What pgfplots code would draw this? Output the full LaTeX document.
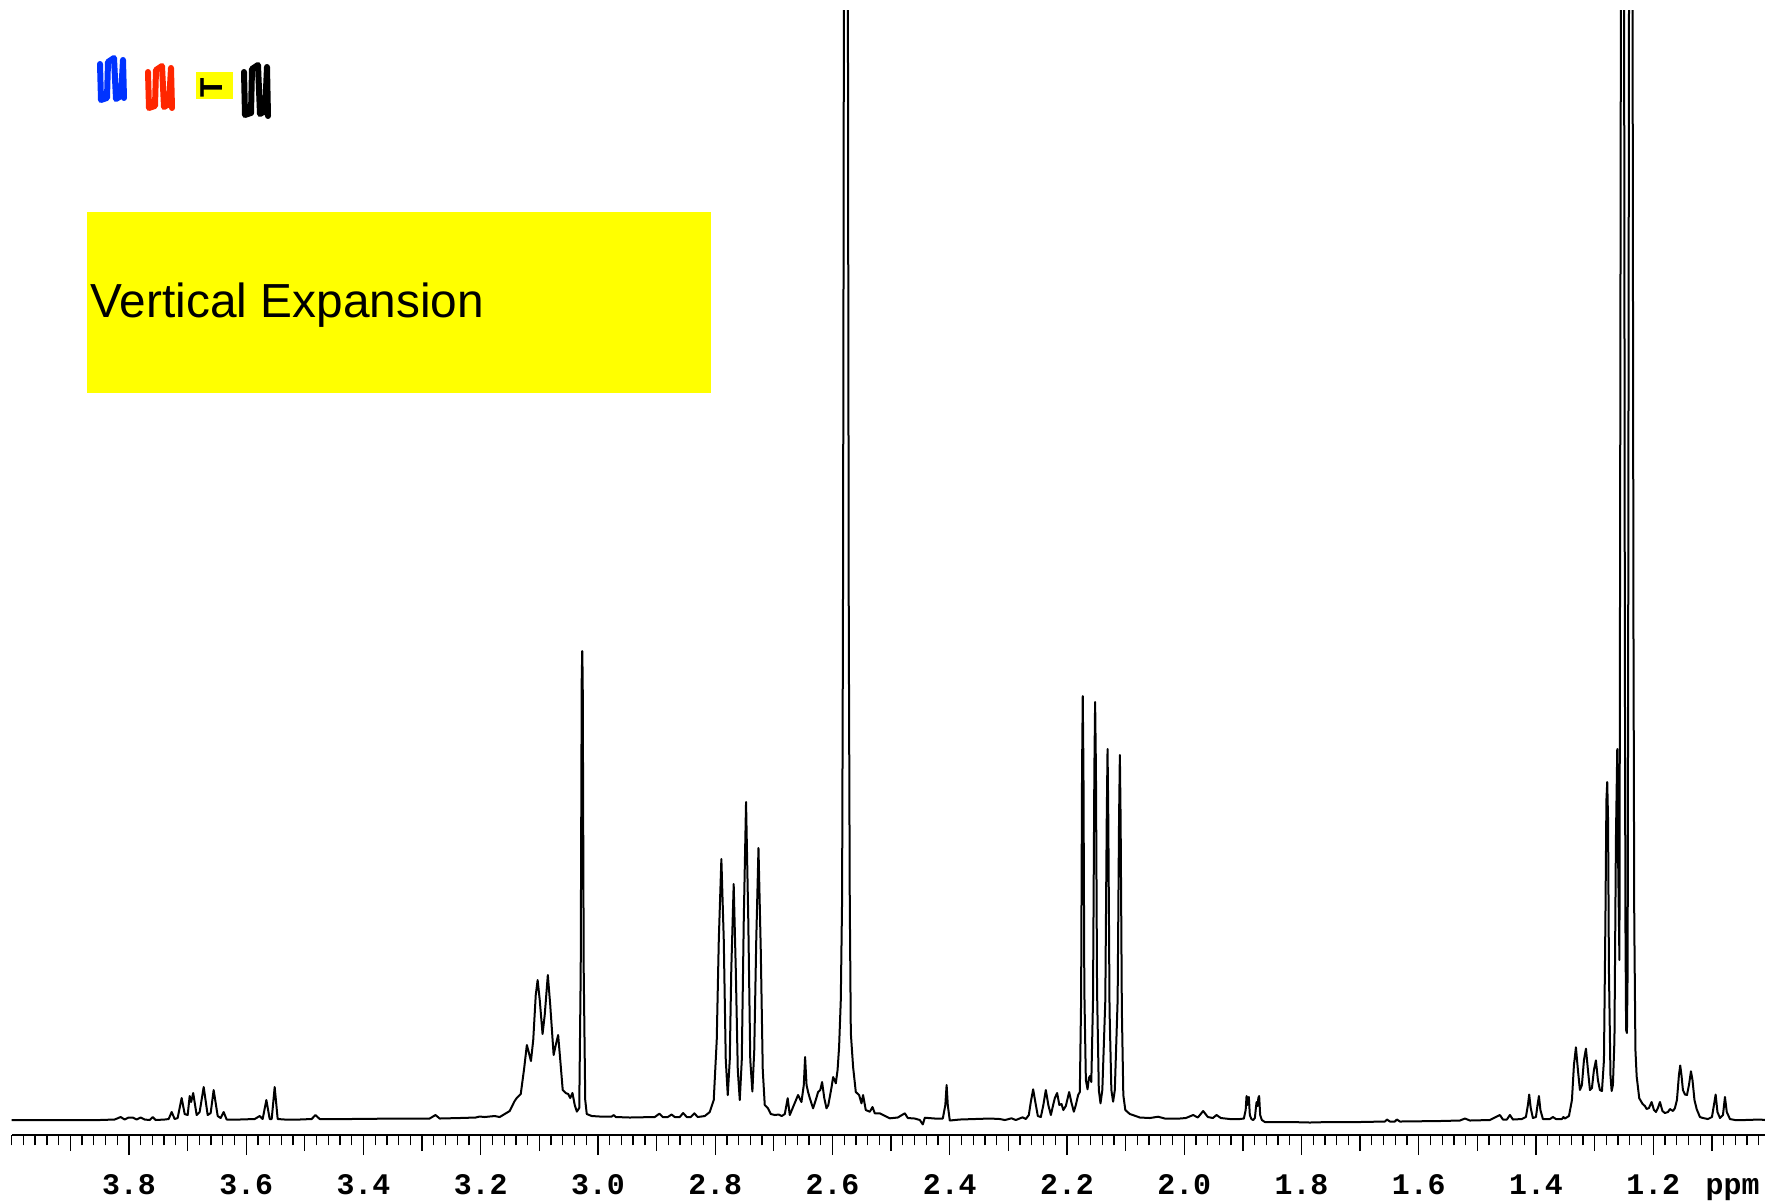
\documentclass[border=0pt]{standalone}
\usepackage{fontspec}
\setmainfont{Liberation Sans}
\setmonofont{Liberation Mono}
\usepackage{pgfplots}
\pgfplotsset{compat=1.18}
\definecolor{scrblue}{RGB}{0,51,255}
\definecolor{scrred}{RGB}{255,38,0}
\definecolor{boxyellow}{RGB}{255,255,0}
\begin{document}
\begin{tikzpicture}
\useasboundingbox (0,0) rectangle (17.65,12);
\begin{axis}[
  at={(0.117cm,0.65cm)}, anchor=south west,
  scale only axis, width=17.533cm, height=11.24cm,
  xmin=1.00938, xmax=4.0, ymin=-15, ymax=1109,
  x dir=reverse,
  axis x line*=bottom, hide y axis,
  axis line style={line width=0.22mm, black},
  tick align=outside,
  major tick length=2mm, minor tick length=1.03mm,
  every tick/.append style={line width=0.13mm, black},
  xtick={1.2,1.4,1.6,1.8,2.0,2.2,2.4,2.6,2.8,3.0,3.2,3.4,3.6,3.8},
  xticklabels={1.2,1.4,1.6,1.8,2.0,2.2,2.4,2.6,2.8,3.0,3.2,3.4,3.6,3.8},
  minor xtick={1.02,1.04,...,3.99},
  extra x ticks={1.1,1.3,1.5,1.7,1.9,2.1,2.3,2.5,2.7,2.9,3.1,3.3,3.5,3.7,3.9},
  extra x tick labels={},
  extra x tick style={major tick length=1.6mm},
  xticklabel style={anchor=base, yshift=-3.9mm, inner sep=0pt, font=\ttfamily\bfseries\fontsize{8.5}{10}\selectfont},
  clip=true,
]
\addplot[black, line width=0.2mm, line join=round] coordinates {
(4.0000,0) (3.8500,0) (3.8244,0.5) (3.8141,3) (3.8073,0.5) (3.8005,2.5) (3.7937,2.5) (3.7868,0.5) (3.7800,2.5) (3.7732,0.5)
(3.7647,0) (3.7595,3) (3.7544,0) (3.7391,0.5) (3.7322,1) (3.7271,8) (3.7220,1) (3.7169,2) (3.7101,22) (3.7049,6)
(3.6998,5) (3.6964,24) (3.6939,18) (3.6904,27) (3.6845,5) (3.6794,8) (3.6725,33) (3.6657,5) (3.6606,7) (3.6555,30)
(3.6486,4) (3.6435,2) (3.6384,8) (3.6333,0.5) (3.6111,0.5) (3.5855,1) (3.5770,4) (3.5719,1) (3.5656,20) (3.5599,1)
(3.5565,1) (3.5514,33) (3.5463,1) (3.5343,0.5) (3.5088,0.5) (3.4883,1) (3.4820,5) (3.4746,1) (3.4235,1) (3.3382,1.5)
(3.2870,1.5) (3.2772,5) (3.2699,1.5) (3.2358,2) (3.2085,2.5) (3.2018,3.5) (3.1932,3) (3.1761,4)
(3.1676,3) (3.1505,9) (3.1426,18.5) (3.1386,22) (3.1317,26) (3.1258,52) (3.1213,75) (3.1181,68) (3.1143,59) (3.1104,80)
(3.1061,125) (3.1029,140) (3.0993,120) (3.0945,86) (3.0908,105) (3.0855,145) (3.0814,115) (3.0756,65) (3.0720,75) (3.0679,85)
(3.0643,60) (3.0601,30) (3.0550,27) (3.0507,26) (3.0473,22) (3.0435,27) (3.0396,15) (3.0360,8.4) (3.0319,12) (3.0294,150)
(3.0277,440) (3.0268,469) (3.0260,440) (3.0243,150) (3.0217,20) (3.0191,6) (3.0106,4) (2.9970,3.5) (2.9765,3.5) (2.9731,5)
(2.9697,3) (2.9458,2.5) (2.9031,3) (2.8951,6.4) (2.8895,3) (2.8809,3) (2.8745,5.5) (2.8690,3) (2.8605,3) (2.8547,7)
(2.8485,3) (2.8417,3) (2.8356,6.7) (2.8298,3) (2.8178,4) (2.8093,8) (2.8025,20) (2.7974,80) (2.7939,180) (2.7895,261)
(2.7854,180) (2.7820,60) (2.7786,25) (2.7752,60) (2.7726,150) (2.7685,236) (2.7649,150) (2.7615,50) (2.7581,20) (2.7547,60)
(2.7513,200) (2.7474,318) (2.7436,200) (2.7402,60) (2.7366,28.5) (2.7334,70) (2.7300,180) (2.7262,272) (2.7223,170) (2.7189,50)
(2.7155,15) (2.7100,11.7) (2.7052,6) (2.6984,5) (2.6918,5.5) (2.6865,4) (2.6813,6) (2.6764,21.8) (2.6728,5)
(2.6587,25) (2.6529,18) (2.6489,35) (2.6467,63) (2.6442,35) (2.6416,28) (2.6387,22) (2.6331,11.7) (2.6285,20) (2.6245,28)
(2.6208,30) (2.6177,38) (2.6140,22) (2.6102,11.7) (2.6071,15) (2.6046,23) (2.6015,33) (2.5989,43) (2.5964,40) (2.5943,36.7)
(2.5913,50) (2.5887,73) (2.5858,120) (2.5836,220) (2.5821,500) (2.5810,900) (2.5802,1300) (2.5771,3000) (2.5740,1300) (2.5732,900)
(2.5722,500) (2.5705,220) (2.5687,87) (2.5648,53) (2.5602,28) (2.5546,25) (2.5505,16.7) (2.5478,25) (2.5432,10) (2.5363,8.3)
(2.5317,13) (2.5278,6.7) (2.5193,6.7) (2.5022,1.7) (2.4886,2.5) (2.4766,6.7) (2.4715,2) (2.4596,1.5) (2.4510,0) (2.4459,-4.4)
(2.4425,2.3) (2.4254,1.5) (2.4118,1.5) (2.4075,15) (2.4053,35) (2.4033,15) (2.3999,-0.5) (2.3828,0.5) (2.3572,1) (2.3316,1.5)
(2.3146,1) (2.3060,0) (2.2946,1.7) (2.2873,0) (2.2758,2.7) (2.2702,1) (2.2651,5) (2.2617,18) (2.2577,30.7) (2.2540,18)
(2.2497,4) (2.2446,3) (2.2403,15) (2.2361,30) (2.2318,15) (2.2275,5) (2.2236,15) (2.2207,22) (2.2168,27) (2.2130,15)
(2.2093,16) (2.2062,10) (2.2020,14) (2.1963,28) (2.1926,18) (2.1883,8.3) (2.1849,15) (2.1810,25) (2.1781,28) (2.1759,120)
(2.1743,350) (2.1731,424) (2.1719,350) (2.1704,130) (2.1678,40) (2.1649,30.7) (2.1627,42) (2.1607,44) (2.1585,38) (2.1556,120)
(2.1533,350) (2.1520,418) (2.1506,350) (2.1487,130) (2.1457,30) (2.1428,16.7) (2.1397,30) (2.1346,120) (2.1322,300) (2.1308,371)
(2.1295,300) (2.1274,110) (2.1243,30) (2.1213,18.3) (2.1184,30) (2.1136,120) (2.1112,300) (2.1098,365) (2.1085,300) (2.1064,110)
(2.1039,25) (2.1005,10) (2.0928,6) (2.0877,5) (2.0757,2.5) (2.0587,2) (2.0445,3.3) (2.0331,1.5) (2.0075,1.5) (1.9972,2)
(1.9848,5) (1.9768,2.5) (1.9677,9) (1.9597,3) (1.9512,2) (1.9449,5) (1.9375,2) (1.9222,1) (1.9051,1) (1.8983,1.5)
(1.8952,10) (1.8937,24) (1.8923,15) (1.8910,22) (1.8898,23) (1.8881,5) (1.8855,1) (1.8824,0) (1.8795,2) (1.8778,12)
(1.8766,18) (1.8749,14) (1.8736,22) (1.8722,24) (1.8705,5) (1.8676,0) (1.8625,-2) (1.8198,-2) (1.7857,-2.5) (1.7516,-2)
(1.7004,-2) (1.6577,-1.5) (1.6543,0.5) (1.6492,-1.5) (1.6407,-1.5) (1.6373,0.5) (1.6322,-1.5) (1.5639,-1) (1.5298,-0.5) (1.5213,1.5)
(1.5127,-0.5) (1.4786,0) (1.4616,5) (1.4564,0.5) (1.4496,0.5) (1.4445,5) (1.4394,0.5) (1.4240,1) (1.4172,3) (1.4138,15)
(1.4116,25.5) (1.4090,12) (1.4053,2) (1.4001,3) (1.3974,15) (1.3950,24) (1.3925,10) (1.3882,1) (1.3763,1) (1.3711,3)
(1.3660,1) (1.3558,1) (1.3532,3) (1.3507,1.5) (1.3438,4) (1.3387,20) (1.3353,55) (1.3319,72.7) (1.3285,50) (1.3251,30)
(1.3217,35) (1.3182,60) (1.3148,71.3) (1.3114,50) (1.3080,30) (1.3046,32) (1.3012,50) (1.2978,59.6) (1.2944,40) (1.2910,30)
(1.2875,29) (1.2841,60) (1.2816,200) (1.2799,320) (1.2785,338) (1.2771,300) (1.2756,150) (1.2730,45) (1.2710,29) (1.2688,35)
(1.2662,80) (1.2637,280) (1.2614,371) (1.2597,250) (1.2577,160) (1.2565,600) (1.2555,1000) (1.2546,1400) (1.2526,2500) (1.2504,1400)
(1.2495,1000) (1.2485,500) (1.2475,200) (1.2463,90) (1.2449,87) (1.2437,150) (1.2427,500) (1.2416,1000) (1.2408,1400) (1.2384,2500)
(1.2360,1400) (1.2350,1000) (1.2338,500) (1.2324,200) (1.2304,70) (1.2283,43.6) (1.2239,21.8) (1.2181,16) (1.2142,14) (1.2113,11)
(1.2074,12) (1.2028,18) (1.1988,10) (1.1954,8) (1.1920,12) (1.1886,18) (1.1843,9) (1.1801,7) (1.1749,8) (1.1715,11)
(1.1664,9) (1.1630,12) (1.1596,20) (1.1562,45) (1.1540,54.5) (1.1519,45) (1.1494,30) (1.1459,25.5) (1.1425,25) (1.1391,35)
(1.1357,48.7) (1.1331,40) (1.1297,20) (1.1260,11) (1.1204,3) (1.1152,2) (1.1067,1) (1.0999,3) (1.0965,15) (1.0936,25.5)
(1.0905,8) (1.0862,2) (1.0811,5) (1.0777,23) (1.0746,8) (1.0692,1) (1.0606,0) (1.0436,0) (1.0180,0.5) (1.0095,0)
};
\end{axis}
% ppm unit label
\node[anchor=base west, inner sep=0pt, font=\ttfamily\bfseries\fontsize{8.5}{10}\selectfont] at (17.05,0.06) {ppm};
% annotation box
\fill[boxyellow] (0.873,8.067) rectangle (7.11,9.883);
\node[anchor=base west, inner sep=0pt, font=\fontsize{13.6}{16}\selectfont] at (0.90,8.827) {Vertical Expansion};
% toolbar icons (hand-drawn scribbles)
\draw[scrblue, line width=0.6mm, line cap=round, line join=round]
  (1.00,11.36)--(1.01,11.00)--(1.07,11.02)--(1.08,11.38)--(1.14,11.42)--(1.16,11.01)--(1.21,11.04)--(1.23,11.40)--(1.24,11.02);
\draw[scrred, line width=0.6mm, line cap=round, line join=round]
  (1.48,11.28)--(1.49,10.92)--(1.55,10.94)--(1.56,11.30)--(1.62,11.34)--(1.64,10.93)--(1.69,10.96)--(1.71,11.32)--(1.72,10.92);
\fill[boxyellow] (1.96,11.01) rectangle (2.33,11.28);
\node[rotate=90, inner sep=0pt, font=\bfseries\fontsize{9}{9}\selectfont] at (2.12,11.12) {T};
\draw[black, line width=0.6mm, line cap=round, line join=round]
  (2.44,11.28)--(2.45,10.85)--(2.51,10.87)--(2.52,11.31)--(2.58,11.35)--(2.60,10.86)--(2.65,10.89)--(2.67,11.33)--(2.68,10.84);
\end{tikzpicture}
\end{document}
